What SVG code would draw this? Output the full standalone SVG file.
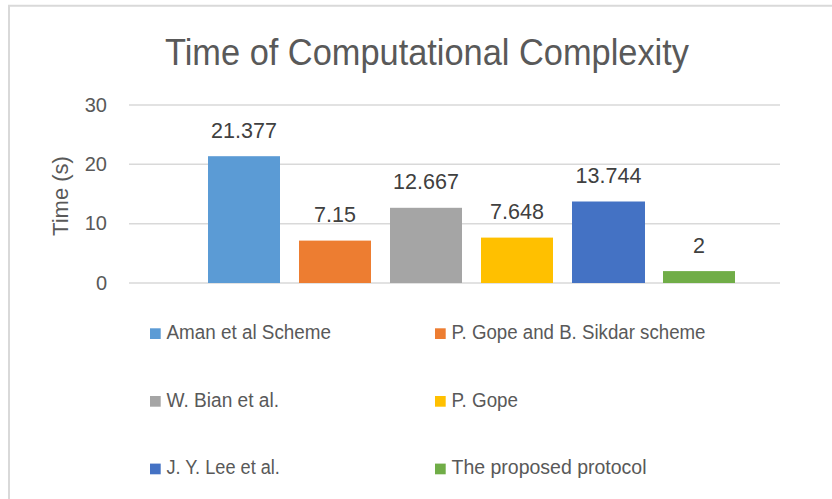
<svg xmlns="http://www.w3.org/2000/svg" width="832" height="499" viewBox="0 0 832 499">
<style>
text{font-family:"Liberation Sans",Arial,sans-serif;fill:#595959}
.grid{stroke:#D9D9D9;stroke-width:1.5}
.tick{font-size:20px;text-anchor:end}
.val{font-size:21.5px;text-anchor:middle;fill:#404040}
.leg{font-size:20px}
</style>
<rect x="0" y="0" width="832" height="499" fill="#FFFFFF"/>
<path d="M9,510 V5.7 H840" fill="none" stroke="#D9D9D9" stroke-width="2"/>
<text x="427" y="65" font-size="36" text-anchor="middle" textLength="524" lengthAdjust="spacingAndGlyphs">Time of Computational Complexity</text>
<g id="axis">
<line class="grid" x1="129" y1="105" x2="780" y2="105"/>
<line class="grid" x1="129" y1="164.3" x2="780" y2="164.3"/>
<line class="grid" x1="129" y1="223.7" x2="780" y2="223.7"/>
<line class="grid" x1="129" y1="283" x2="780" y2="283"/>
<text class="tick" x="107" y="111.7">30</text>
<text class="tick" x="107" y="171">20</text>
<text class="tick" x="107" y="230.4">10</text>
<text class="tick" x="107" y="289.6">0</text>
<text x="0" y="0" font-size="22" text-anchor="middle" transform="translate(67.5,196) rotate(-90)">Time (s)</text>
</g>
<g id="bars">
<g id="bar-aman"><rect x="208" y="156.2" width="72" height="126.8" fill="#5B9BD5"/><text class="val" x="244" y="137.7">21.377</text></g>
<g id="bar-gope-sikdar"><rect x="299" y="240.6" width="72" height="42.4" fill="#ED7D31"/><text class="val" x="335" y="222">7.15</text></g>
<g id="bar-bian"><rect x="390" y="207.8" width="72" height="75.2" fill="#A5A5A5"/><text class="val" x="426" y="189.3">12.667</text></g>
<g id="bar-gope"><rect x="481" y="237.6" width="72" height="45.4" fill="#FFC000"/><text class="val" x="517" y="219.1">7.648</text></g>
<g id="bar-lee"><rect x="572" y="201.5" width="73" height="81.5" fill="#4472C4"/><text class="val" x="608.5" y="183">13.744</text></g>
<g id="bar-proposed"><rect x="663" y="271.1" width="72" height="11.9" fill="#70AD47"/><text class="val" x="699" y="252.6">2</text></g>
</g>
<g id="legend">
<g id="leg-aman"><rect x="150" y="328.3" width="10.7" height="10.7" fill="#5B9BD5"/><text class="leg" x="166.5" y="339" textLength="164.5" lengthAdjust="spacingAndGlyphs">Aman et al Scheme</text></g>
<g id="leg-gope-sikdar"><rect x="435" y="328.3" width="10.7" height="10.7" fill="#ED7D31"/><text class="leg" x="451.5" y="339" textLength="254" lengthAdjust="spacingAndGlyphs">P. Gope and B. Sikdar scheme</text></g>
<g id="leg-bian"><rect x="150" y="396" width="10.7" height="10.7" fill="#A5A5A5"/><text class="leg" x="166.5" y="406.7" textLength="112.5" lengthAdjust="spacingAndGlyphs">W. Bian et al.</text></g>
<g id="leg-gope"><rect x="435" y="396" width="10.7" height="10.7" fill="#FFC000"/><text class="leg" x="451.5" y="406.7" textLength="66.5" lengthAdjust="spacingAndGlyphs">P. Gope</text></g>
<g id="leg-lee"><rect x="150" y="463.6" width="10.7" height="10.7" fill="#4472C4"/><text class="leg" x="166.5" y="474.3" textLength="113.4" lengthAdjust="spacingAndGlyphs">J. Y. Lee et al.</text></g>
<g id="leg-proposed"><rect x="435" y="463.6" width="10.7" height="10.7" fill="#70AD47"/><text class="leg" x="451.5" y="474.3" textLength="195" lengthAdjust="spacingAndGlyphs">The proposed protocol</text></g>
</g>
</svg>
